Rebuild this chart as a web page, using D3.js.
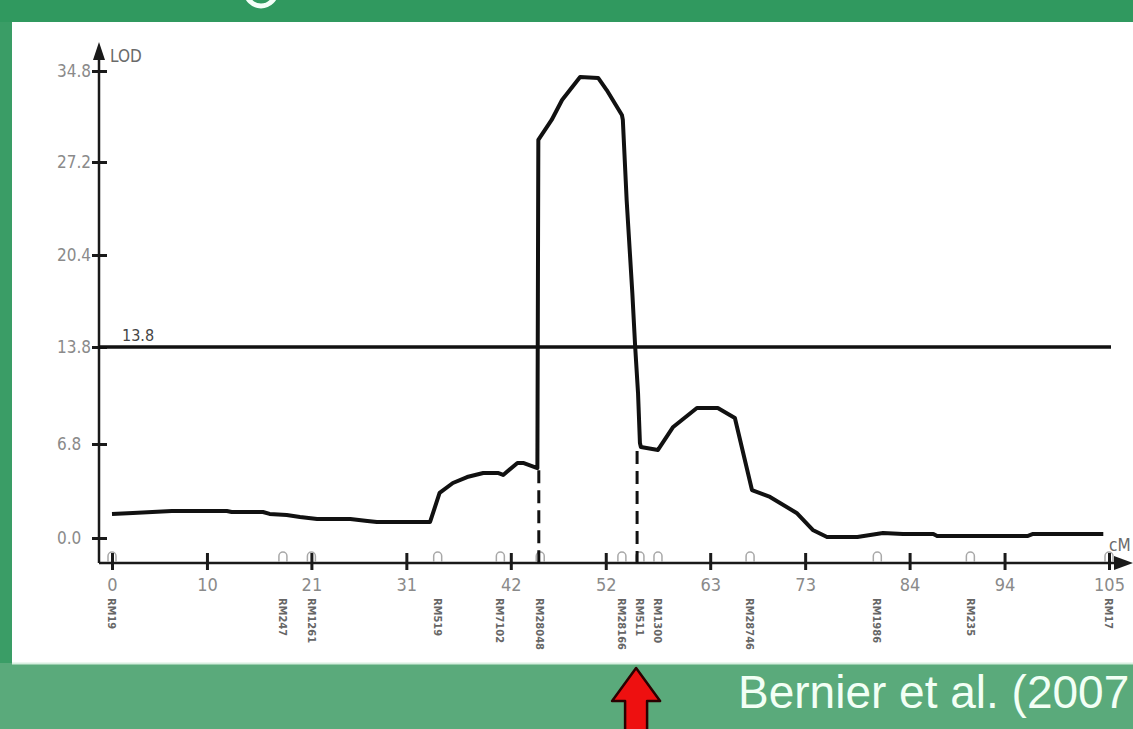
<!DOCTYPE html>
<html>
<head>
<meta charset="utf-8">
<script src="https://cdn.jsdelivr.net/npm/d3@7"></script>
<style>
  html, body { margin: 0; padding: 0; background: #3a9d66; }
  svg { display: block; }
</style>
</head>
<body>
<svg id="chart" width="1133" height="729"></svg>
<script>
// LOD profile (cM along the linkage group, LOD score)
const cmPos = [0, 2.2, 6.3, 12.1, 12.6, 15.9, 16.6, 18.4, 19.8, 21.6, 25.1, 26.9, 27.9, 33.5,
  34.5, 35.9, 37.4, 39.1, 40.7, 41.2, 42.7, 43.3, 44.8, 44.9, 46.3, 47.4, 49.3, 51.2, 52.1,
  53.7, 53.8, 54.2, 54.8, 55.1, 55.4, 55.6, 55.7, 57.5, 59.1, 61.6, 63.8, 65.6, 67.4, 69.3,
  72.1, 73.8, 75.3, 78.5, 81.2, 83.3, 86.5, 86.9, 96.4, 97.0, 104.4];
const lodVals = [1.74, 1.81, 1.95, 1.95, 1.88, 1.88, 1.74, 1.66, 1.52, 1.37, 1.37, 1.23, 1.16, 1.16,
  3.26, 3.98, 4.41, 4.70, 4.70, 4.56, 5.43, 5.43, 5.06, 29.04, 30.71, 32.38, 34.30, 34.22, 33.21,
  31.13, 30.71, 24.42, 17.67, 13.8, 10.48, 6.87, 6.58, 6.37, 8.03, 9.40, 9.40, 8.68, 3.47, 2.97,
  1.81, 0.58, 0.07, 0.07, 0.36, 0.29, 0.29, 0.14, 0.14, 0.29, 0.29];

const threshold = 13.8;
// dashed support-interval lines: position and the LOD where the dash starts
const flankCM = [44.95, 55.3];
const flankLod = [4.9, 6.3];

const xTicks = [0, 10, 21, 31, 42, 52, 63, 73, 84, 94, 105];
const yTicks = [0, 6.8, 13.8, 20.4, 27.2, 34.8];

const markerNames = ["RM19", "RM247", "RM1261", "RM519", "RM7102", "RM28048", "RM28166",
  "RM511", "RM1300", "RM28746", "RM1986", "RM235", "RM17"];
const markerCM = [0, 18.0, 21.0, 34.3, 40.9, 45.1, 53.7, 55.6, 57.5, 67.2, 80.6, 90.4, 105];

const caption = "Bernier et al. (2007";

const svg = d3.select("#chart");
const narrow = "'Liberation Sans Narrow', 'DejaVu Sans Condensed', sans-serif";

// background panels
svg.append("rect").attr("width", 1133).attr("height", 729).attr("fill", "#3a9d66");
svg.append("rect").attr("width", 1133).attr("height", 22).attr("fill", "#30995f");
svg.append("rect").attr("y", 663).attr("width", 1133).attr("height", 66).attr("fill", "#5aaa7b");
svg.append("rect").attr("x", 12).attr("y", 22).attr("width", 1121).attr("height", 641).attr("fill", "#ffffff");
svg.append("line").attr("x1", 12).attr("x2", 1133).attr("y1", 663.5).attr("y2", 663.5)
  .attr("stroke", "#d8efe0").attr("stroke-width", 2);

// bottom of a title glyph peeking into the top band
svg.append("circle").attr("cx", 261).attr("cy", -9).attr("r", 15)
  .attr("fill", "none").attr("stroke", "#f4fff8").attr("stroke-width", 5);

const x = d3.scaleLinear().domain([0, 105]).range([112, 1109]);
const y = d3.scaleLinear().domain(yTicks).range([538, 444, 347, 255, 162, 71]);

const axisY0 = 563;
const axisX0 = 99;

// x axis ticks and labels
const gx = svg.append("g").attr("transform", `translate(0,${axisY0 - 10})`)
  .call(d3.axisBottom(x).tickValues(xTicks).tickSize(17).tickFormat(d3.format("d")));
gx.select(".domain").remove();
gx.selectAll(".tick line").attr("stroke", "#1a1a1a").attr("stroke-width", 3);
gx.selectAll(".tick text").attr("y", 25).attr("fill", "#8a8a8a")
  .attr("font-family", narrow).attr("font-size", 18);

// y axis ticks and labels
const gy = svg.append("g").attr("transform", `translate(${axisX0 + 8},0)`)
  .call(d3.axisLeft(y).tickValues(yTicks).tickSize(15).tickFormat(d3.format(".1f")));
gy.select(".domain").remove();
gy.selectAll(".tick line").attr("stroke", "#1a1a1a").attr("stroke-width", 3);
gy.selectAll(".tick text").attr("x", -50).attr("text-anchor", "start").attr("fill", "#8a8a8a")
  .attr("font-family", narrow).attr("font-size", 17);

// axis lines with arrow heads
svg.append("line").attr("x1", axisX0).attr("x2", axisX0).attr("y1", 58).attr("y2", axisY0)
  .attr("stroke", "#1a1a1a").attr("stroke-width", 2.5);
svg.append("path").attr("d", `M${axisX0},42 L${axisX0 + 6},60 L${axisX0 - 6},60 Z`).attr("fill", "#1a1a1a");
svg.append("line").attr("x1", axisX0).attr("x2", 1118).attr("y1", axisY0).attr("y2", axisY0)
  .attr("stroke", "#1a1a1a").attr("stroke-width", 2.5);
svg.append("path").attr("d", `M1133,${axisY0} L1114,${axisY0 - 7} L1114,${axisY0 + 7} Z`).attr("fill", "#1a1a1a");

svg.append("text").attr("x", 110).attr("y", 62).text("LOD")
  .attr("font-family", narrow).attr("font-size", 17).attr("fill", "#6a6a6a");
svg.append("text").attr("x", 1109).attr("y", 551).text("cM")
  .attr("font-family", narrow).attr("font-size", 17).attr("fill", "#6a6a6a");

// marker arches on the axis
svg.append("g").selectAll("path").data(markerCM).join("path")
  .attr("d", d => {
    const cx = x(d);
    return `M${cx - 4},${axisY0 - 1} L${cx - 4},${axisY0 - 7} A4,4 0 0 1 ${cx + 4},${axisY0 - 7} L${cx + 4},${axisY0 - 1}`;
  })
  .attr("fill", "none").attr("stroke", "#a8a8a8").attr("stroke-width", 1.5);

// marker names, rotated
svg.append("g").selectAll("text").data(markerNames).join("text")
  .attr("transform", (d, i) => `translate(${x(markerCM[i])},598) rotate(90)`)
  .attr("dy", "0.35em")
  .text(d => d)
  .attr("font-family", narrow).attr("font-size", 11).attr("font-weight", "bold").attr("fill", "#666");

// threshold line
svg.append("line").attr("x1", axisX0).attr("x2", 1111)
  .attr("y1", y(threshold)).attr("y2", y(threshold))
  .attr("stroke", "#111").attr("stroke-width", 3.5);
svg.append("text").attr("x", 122).attr("y", y(threshold) - 6).text(threshold.toFixed(1))
  .attr("font-family", narrow).attr("font-size", 16).attr("fill", "#444");

// dashed support lines
svg.append("g").selectAll("line").data(flankCM).join("line")
  .attr("x1", d => x(d)).attr("x2", d => x(d))
  .attr("y1", (d, i) => y(flankLod[i])).attr("y2", axisY0)
  .attr("stroke", "#111").attr("stroke-width", 3).attr("stroke-dasharray", "13,7");

// LOD curve
const line = d3.line().x(d => x(d[0])).y(d => y(d[1]));
svg.append("path").datum(d3.zip(cmPos, lodVals))
  .attr("d", line)
  .attr("fill", "none").attr("stroke", "#111").attr("stroke-width", 4)
  .attr("stroke-linejoin", "round");

// caption
svg.append("text").attr("x", 738).attr("y", 708).text(caption)
  .attr("font-family", "'Liberation Sans', Arial, sans-serif").attr("font-size", 46)
  .attr("fill", "#f2fff5");

// red arrow pointing at the peak interval
const ax = x(flankCM[1]) - 1;
svg.append("path")
  .attr("d", `M${ax},668 L${ax + 24},701 L${ax + 11},701 L${ax + 11},731 L${ax - 11},731 L${ax - 11},701 L${ax - 24},701 Z`)
  .attr("fill", "#ee1010").attr("stroke", "#2a0000").attr("stroke-width", 2.5).attr("stroke-linejoin", "round");
</script>
</body>
</html>
